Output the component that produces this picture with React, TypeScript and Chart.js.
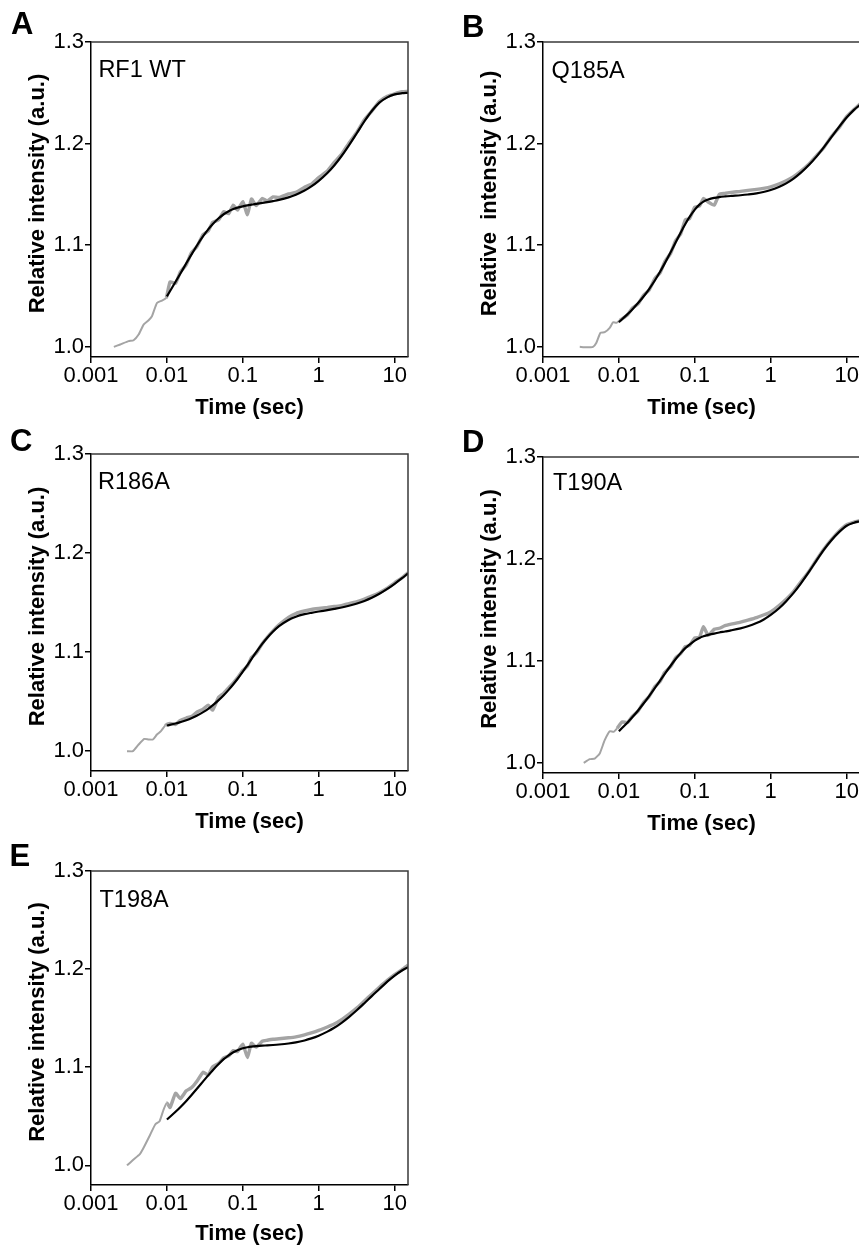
import React, { useEffect, useRef } from 'react';
import { Chart, registerables } from 'chart.js';

Chart.register(...registerables);

const FONT = "'Liberation Sans', Arial, Helvetica, sans-serif";

// ---- axes ----
const X_TICKS = [0.001, 0.01, 0.1, 1, 10];
const X_TICK_LABELS = ['0.001', '0.01', '0.1', '1', '10'];
const Y_TICKS = [1.0, 1.1, 1.2, 1.3];
const Y_TICK_LABELS = ['1.0', '1.1', '1.2', '1.3'];
const X_MIN = 0.001;
const X_MAX = 15;
const Y_MAX = 1.3;
const X_TITLE = 'Time (sec)';

// ---- shared time grids (sec) ----
const FIT_T = [0.01, 0.013, 0.015, 0.018, 0.021, 0.025, 0.03, 0.035, 0.04, 0.048, 0.056, 0.065, 0.075, 0.085, 0.1, 0.115, 0.13, 0.15, 0.18, 0.21, 0.25, 0.3, 0.4, 0.5, 0.65, 0.8, 1, 1.3, 1.6, 2, 2.5, 3.2, 4, 5, 6.3, 8, 10, 12.5, 15];
const TRACE_T = [0.011, 0.013, 0.015, 0.018, 0.021, 0.025, 0.03, 0.035, 0.04, 0.048, 0.056, 0.065, 0.075, 0.085, 0.1, 0.115, 0.13, 0.15, 0.18, 0.21, 0.25, 0.3, 0.4, 0.5, 0.65, 0.8, 1, 1.3, 1.6, 2, 2.5, 3.2, 4, 5, 6.3, 8, 10, 12.5, 15];

// ---- A: RF1 WT ----
const EARLY_T_A = [0.002, 0.00243, 0.00313, 0.00364, 0.00424, 0.00493, 0.00574, 0.00635, 0.00739, 0.00859, 0.0098];
const EARLY_A = [1.0, 1.0023, 1.0056, 1.0065, 1.0121, 1.0219, 1.0262, 1.0301, 1.0432, 1.0455, 1.0481];
const TRACE_A = [1.064, 1.0625, 1.0735, 1.081, 1.0925, 1.099, 1.1105, 1.114, 1.1225, 1.125, 1.133, 1.131, 1.1395, 1.1345, 1.143, 1.13, 1.1455, 1.139, 1.146, 1.1435, 1.1475, 1.147, 1.1505, 1.152, 1.157, 1.16, 1.1665, 1.173, 1.1815, 1.1895, 1.2005, 1.2115, 1.2235, 1.232, 1.2415, 1.2465, 1.249, 1.251, 1.2515];
const FIT_A = [1.0497, 1.064, 1.0719, 1.0822, 1.0907, 1.1, 1.1089, 1.1156, 1.1207, 1.1265, 1.1305, 1.1335, 1.1356, 1.137, 1.1383, 1.1392, 1.1399, 1.1407, 1.1416, 1.1424, 1.1434, 1.1446, 1.1471, 1.1497, 1.1538, 1.1579, 1.1634, 1.1711, 1.1785, 1.1878, 1.1983, 1.2107, 1.222, 1.2321, 1.2403, 1.2455, 1.2484, 1.2496, 1.25];

// ---- B: Q185A ----
const EARLY_T_B = [0.00305, 0.00372, 0.00456, 0.00505, 0.0057, 0.0065, 0.00757, 0.00838, 0.00927, 0.01025];
const EARLY_B = [1.0, 0.9995, 1.0, 1.004, 1.0137, 1.0144, 1.0186, 1.0242, 1.0236, 1.026];
const TRACE_B = [1.0275, 1.0315, 1.038, 1.0425, 1.0505, 1.056, 1.0675, 1.073, 1.0835, 1.092, 1.1045, 1.111, 1.125, 1.126, 1.1375, 1.1385, 1.146, 1.1425, 1.1395, 1.15, 1.151, 1.152, 1.153, 1.154, 1.155, 1.156, 1.1575, 1.1605, 1.1635, 1.1675, 1.173, 1.18, 1.188, 1.196, 1.207, 1.216, 1.2265, 1.2335, 1.239];
const FIT_B = [1.0242, 1.0322, 1.0368, 1.0433, 1.0493, 1.0569, 1.0658, 1.0741, 1.0819, 1.0931, 1.1029, 1.1123, 1.1209, 1.1276, 1.135, 1.1399, 1.1429, 1.145, 1.1466, 1.1474, 1.148, 1.1485, 1.1492, 1.1499, 1.151, 1.1524, 1.1544, 1.1576, 1.1609, 1.1656, 1.1714, 1.1791, 1.1872, 1.1963, 1.2063, 1.2167, 1.2256, 1.2332, 1.2381];

// ---- C: R186A ----
const EARLY_T_C = [0.00298, 0.00357, 0.00424, 0.00503, 0.00574, 0.00654, 0.00739, 0.00834, 0.0095];
const EARLY_C = [1.0, 1.0, 1.0067, 1.0124, 1.0118, 1.0118, 1.0168, 1.0202, 1.0259];
const TRACE_C = [1.028, 1.027, 1.031, 1.0335, 1.035, 1.0395, 1.0425, 1.0465, 1.0415, 1.0545, 1.0585, 1.064, 1.069, 1.074, 1.0815, 1.086, 1.0945, 1.099, 1.1085, 1.115, 1.1215, 1.1275, 1.135, 1.139, 1.1415, 1.143, 1.144, 1.145, 1.146, 1.147, 1.149, 1.151, 1.1535, 1.1565, 1.16, 1.1645, 1.17, 1.175, 1.18];
const FIT_C = [1.0259, 1.028, 1.0293, 1.0312, 1.0333, 1.036, 1.0394, 1.0428, 1.0462, 1.0515, 1.0565, 1.0619, 1.0676, 1.0729, 1.0803, 1.087, 1.093, 1.0999, 1.1083, 1.1146, 1.1208, 1.1262, 1.1325, 1.1358, 1.1383, 1.1397, 1.141, 1.1424, 1.1436, 1.145, 1.1468, 1.1491, 1.1517, 1.1549, 1.1589, 1.1638, 1.169, 1.1746, 1.1795];

// ---- D: T190A ----
const EARLY_T_D = [0.00344, 0.00413, 0.0048, 0.00559, 0.0065, 0.00757, 0.00855, 0.00946];
const EARLY_D = [1.0, 1.0036, 1.0042, 1.0092, 1.0222, 1.031, 1.0304, 1.0337];
const TRACE_D = [1.04, 1.0395, 1.0455, 1.051, 1.059, 1.065, 1.075, 1.08, 1.0885, 1.0945, 1.103, 1.107, 1.114, 1.115, 1.1225, 1.123, 1.1335, 1.125, 1.131, 1.132, 1.1345, 1.136, 1.138, 1.14, 1.1425, 1.145, 1.148, 1.1545, 1.1605, 1.168, 1.1775, 1.188, 1.199, 1.2095, 1.219, 1.2275, 1.2335, 1.236, 1.2375];
const FIT_D = [1.031, 1.0396, 1.0446, 1.0516, 1.0579, 1.0655, 1.0737, 1.0808, 1.087, 1.0952, 1.1018, 1.1076, 1.1125, 1.1159, 1.1199, 1.1225, 1.1241, 1.1255, 1.1268, 1.1278, 1.1288, 1.1299, 1.1319, 1.1339, 1.1371, 1.1404, 1.1451, 1.1519, 1.1586, 1.1667, 1.1761, 1.1875, 1.1984, 1.2089, 1.2183, 1.2265, 1.2325, 1.2355, 1.237];

// ---- E: T198A ----
const EARLY_T_E = [0.00298, 0.00364, 0.00437, 0.00493, 0.00604, 0.00702, 0.00801, 0.00904, 0.01];
const EARLY_E = [1.0, 1.0061, 1.0112, 1.018, 1.0315, 1.0417, 1.045, 1.0569, 1.0637];
const TRACE_E = [1.059, 1.0735, 1.068, 1.076, 1.079, 1.086, 1.095, 1.092, 1.1005, 1.104, 1.1095, 1.1115, 1.117, 1.116, 1.1235, 1.11, 1.1245, 1.1205, 1.1265, 1.1275, 1.1285, 1.129, 1.13, 1.131, 1.133, 1.135, 1.1375, 1.141, 1.144, 1.1485, 1.154, 1.1605, 1.1675, 1.1745, 1.1815, 1.1885, 1.1945, 1.1995, 1.204];
const FIT_E = [1.0467, 1.0547, 1.0593, 1.0657, 1.0715, 1.0783, 1.0856, 1.0917, 1.0968, 1.1033, 1.1082, 1.1122, 1.1153, 1.1174, 1.1193, 1.1204, 1.121, 1.1215, 1.122, 1.1223, 1.1227, 1.1232, 1.1242, 1.1253, 1.1273, 1.1294, 1.1322, 1.1363, 1.1402, 1.1453, 1.1511, 1.1583, 1.1653, 1.1725, 1.1797, 1.1872, 1.1934, 1.1986, 1.2019];

const Y_TITLE = 'Relative intensity (a.u.)';
const Y_TITLE_B = 'Relative  intensity (a.u.)';

const AXIS_W = 85;
const AXIS_H = 70;
const PAD_T = 42;
const PAD_R = 15;

type PanelDef = {
  letter: string; name: string; yTitle: string; yMin: number;
  earlyT: number[]; early: number[]; trace: number[]; fit: number[];
  left: number; right: number; top: number; bottom: number;
  letterX: number; letterY: number; nameDx: number; nameDy: number; xTitleDy: number;
};

const PANELS: PanelDef[] = [
  { letter: 'A', name: 'RF1 WT', yTitle: Y_TITLE, yMin: 0.99, earlyT: EARLY_T_A, early: EARLY_A, trace: TRACE_A, fit: FIT_A,
    left: 91, right: 408, top: 42, bottom: 357, letterX: 11, letterY: 33.5, nameDx: 7.4, nameDy: 35, xTitleDy: 57 },
  { letter: 'B', name: 'Q185A', yTitle: Y_TITLE_B, yMin: 0.99, earlyT: EARLY_T_B, early: EARLY_B, trace: TRACE_B, fit: FIT_B,
    left: 543, right: 860, top: 42, bottom: 357, letterX: 462, letterY: 36.5, nameDx: 8.5, nameDy: 35.5, xTitleDy: 57 },
  { letter: 'C', name: 'R186A', yTitle: Y_TITLE, yMin: 0.98, earlyT: EARLY_T_C, early: EARLY_C, trace: TRACE_C, fit: FIT_C,
    left: 91, right: 408, top: 454, bottom: 771, letterX: 10, letterY: 450.5, nameDx: 7, nameDy: 35, xTitleDy: 57 },
  { letter: 'D', name: 'T190A', yTitle: Y_TITLE, yMin: 0.99, earlyT: EARLY_T_D, early: EARLY_D, trace: TRACE_D, fit: FIT_D,
    left: 543, right: 860, top: 457, bottom: 773, letterX: 462, letterY: 452, nameDx: 10, nameDy: 32.5, xTitleDy: 57 },
  { letter: 'E', name: 'T198A', yTitle: Y_TITLE, yMin: 0.98, earlyT: EARLY_T_E, early: EARLY_E, trace: TRACE_E, fit: FIT_E,
    left: 91, right: 408, top: 871, bottom: 1185, letterX: 9.5, letterY: 865.5, nameDx: 8.5, nameDy: 36, xTitleDy: 55 },
];

function Panel({ p }: { p: PanelDef }) {
  const ref = useRef<HTMLCanvasElement | null>(null);
  const w = AXIS_W + (p.right - p.left) + PAD_R;
  const h = PAD_T + (p.bottom - p.top) + AXIS_H;
  const cLeft = p.left - AXIS_W;
  const cTop = p.top - PAD_T;

  useEffect(() => {
    if (!ref.current) return;
    const traceT = [...p.earlyT, ...TRACE_T];
    const traceV = [...p.early, ...p.trace];
    const traceData = traceT.map((t, i) => ({ x: t, y: traceV[i] }));
    const fitData = FIT_T.map((t, i) => ({ x: t, y: p.fit[i] }));

    const decor = {
      id: 'decor',
      afterDatasetsDraw(chart: any) {
        const { ctx, chartArea: a } = chart;
        ctx.save();
        ctx.strokeStyle = '#3a3a3a';
        ctx.lineWidth = 1.5;
        ctx.beginPath();
        ctx.moveTo(a.left, a.top);
        ctx.lineTo(a.right, a.top);
        ctx.lineTo(a.right, a.bottom);
        ctx.stroke();
        ctx.restore();
      },
      afterDraw(chart: any) {
        const { ctx, chartArea: a } = chart;
        ctx.save();
        ctx.fillStyle = '#000';
        ctx.textBaseline = 'alphabetic';
        ctx.font = `bold 31px ${FONT}`;
        ctx.textAlign = 'left';
        ctx.fillText(p.letter, p.letterX - cLeft, p.letterY - cTop);
        ctx.font = `23.5px ${FONT}`;
        ctx.fillText(p.name, a.left + p.nameDx, a.top + p.nameDy);
        ctx.font = `bold 22px ${FONT}`;
        ctx.textAlign = 'center';
        ctx.fillText(X_TITLE, (a.left + a.right) / 2, a.bottom + p.xTitleDy);
        ctx.translate(a.left - 47, (a.top + a.bottom) / 2 - 6);
        ctx.rotate(-Math.PI / 2);
        ctx.fillText(p.yTitle, 0, 0);
        ctx.restore();
      },
    };

    const chart = new Chart(ref.current, {
      type: 'line',
      data: {
        datasets: [
          {
            label: 'fit',
            data: fitData,
            borderColor: '#000000',
            borderWidth: 2.2,
            pointRadius: 0,
            fill: false,
            cubicInterpolationMode: 'monotone',
          },
          {
            label: 'data',
            data: traceData,
            borderColor: '#a4a4a4',
            borderWidth: 3.2,
            pointRadius: 0,
            fill: false,
            tension: 0.15,
            segment: {
              borderWidth: (c: any) => (c.p1.parsed.x <= 0.0105 ? 2 : 3.4),
            },
          },
        ],
      },
      options: {
        animation: false,
        responsive: false,
        maintainAspectRatio: false,
        events: [],
        layout: { padding: { left: 0, top: PAD_T, right: PAD_R, bottom: 0 } },
        plugins: { legend: { display: false }, tooltip: { enabled: false }, title: { display: false } },
        scales: {
          x: {
            type: 'logarithmic',
            min: X_MIN,
            max: X_MAX,
            afterBuildTicks: (s: any) => { s.ticks = X_TICKS.map((v) => ({ value: v })); },
            afterFit: (s: any) => { s.height = AXIS_H; },
            ticks: {
              autoSkip: false,
              maxRotation: 0,
              minRotation: 0,
              padding: 0,
              color: '#000',
              font: { family: FONT, size: 22 },
              callback: (_v: any, i: number) => X_TICK_LABELS[i],
            },
            grid: { drawOnChartArea: false, tickLength: 6, tickColor: '#000', lineWidth: 1.5 },
            border: { color: '#000', width: 1.5 },
          },
          y: {
            type: 'linear',
            min: p.yMin,
            max: Y_MAX,
            afterBuildTicks: (s: any) => { s.ticks = Y_TICKS.map((v) => ({ value: v })); },
            afterFit: (s: any) => { s.width = AXIS_W; },
            ticks: {
              autoSkip: false,
              padding: 1,
              color: '#000',
              font: { family: FONT, size: 22 },
              callback: (_v: any, i: number) => Y_TICK_LABELS[i],
            },
            grid: { drawOnChartArea: false, tickLength: 6, tickColor: '#000', lineWidth: 1.5 },
            border: { color: '#000', width: 1.5 },
          },
        },
      },
      plugins: [decor],
    } as any);
    return () => chart.destroy();
  }, []);

  return (
    <canvas
      ref={ref}
      width={w}
      height={h}
      style={{ position: 'absolute', left: cLeft, top: cTop, width: w, height: h }}
    />
  );
}

export default function App() {
  return (
    <div style={{ position: 'fixed', left: 0, top: 0, width: 859, height: 1245, overflow: 'hidden', background: '#fff' }}>
      {PANELS.map((p) => (
        <Panel key={p.letter} p={p} />
      ))}
    </div>
  );
}
